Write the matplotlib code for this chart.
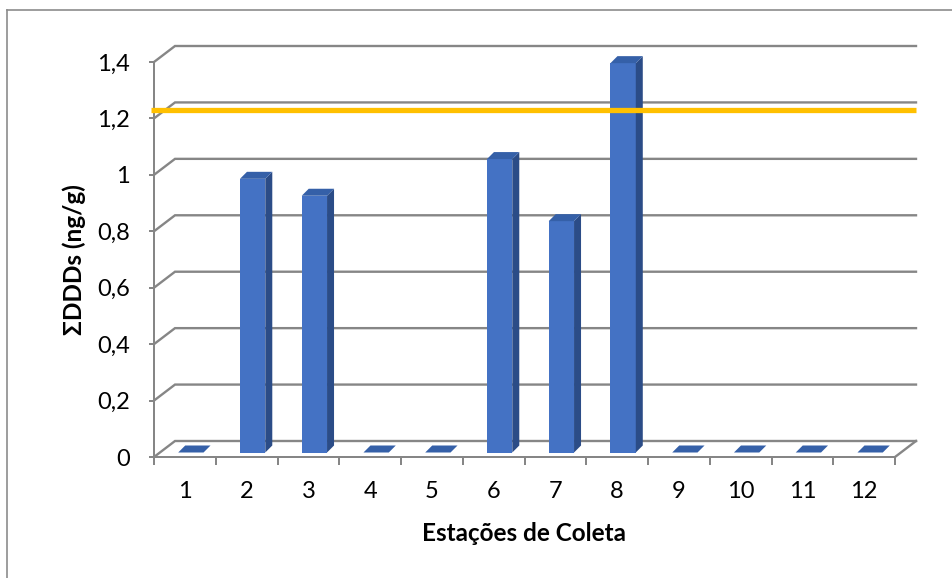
import numpy as np
import matplotlib
matplotlib.use("Agg")
import matplotlib.pyplot as plt
from matplotlib import transforms
from matplotlib.patches import Polygon
from matplotlib.lines import Line2D

plt.rcParams['font.family'] = ['Lato', 'DejaVu Sans']

# dados
estacoes = ['1', '2', '3', '4', '5', '6', '7', '8', '9', '10', '11', '12']
sum_ddds = [0, 0.97, 0.91, 0, 0, 1.04, 0.82, 1.38, 0, 0, 0, 0]
tel_ddd = 1.22  # linha de referência
y_ticks = [0, 0.2, 0.4, 0.6, 0.8, 1.0, 1.2, 1.4]
y_labels = ['0', '0,2', '0,4', '0,6', '0,8', '1', '1,2', '1,4']

W, H = 952, 578
fig = plt.figure(figsize=(W / 100, H / 100), dpi=100)
ax = fig.add_axes([154 / W, 121 / H, 741 / W, 395 / H])
ax.set_xlim(0, len(estacoes))
ax.set_ylim(0, 1.4)
ax.set_facecolor('none')

grid_c = '#868686'
depth = np.array([21, 16])      # profundidade do piso / parede (pixels)
bar_off = (6, 4.5)              # face frontal das barras
bar_depth = np.array([7, 7])

for s in ['top', 'right']:
    ax.spines[s].set_visible(False)
for s in ['left', 'bottom']:
    ax.spines[s].set_color(grid_c)
    ax.spines[s].set_linewidth(1.44)

ident = transforms.IdentityTransform()

def disp(x, y):
    return ax.transData.transform((x, y))

# grade na parede do fundo
for t in y_ticks:
    p0 = disp(0, t)
    p1 = p0 + depth
    p2 = disp(len(estacoes), t) + depth
    ax.add_line(Line2D([p0[0], p1[0], p2[0]], [p0[1], p1[1], p2[1]],
                       transform=ident, color=grid_c, lw=1.7, zorder=1,
                       clip_on=False, solid_joinstyle='miter'))
# borda direita do piso
q0 = disp(len(estacoes), 0)
q1 = q0 + depth
ax.add_line(Line2D([q0[0], q1[0]], [q0[1], q1[1]], transform=ident,
                   color=grid_c, lw=1.7, zorder=1, clip_on=False))

# barras 3D
x = np.arange(len(estacoes)) + 0.5
bar_trans = transforms.offset_copy(ax.transData, fig=fig, x=bar_off[0],
                                   y=bar_off[1], units='dots')
bars = ax.bar(x, sum_ddds, width=0.41, color='#4472C4', zorder=3)
for b, v in zip(bars, sum_ddds):
    b.set_transform(bar_trans)
    b.set_clip_on(False)
    x0, x1 = b.get_x(), b.get_x() + b.get_width()
    (ax0, ay0), (ax1, ay1) = bar_trans.transform([(x0, 0), (x1, v)])
    side = [(ax1, ay0), (ax1, ay1), (ax1 + bar_depth[0], ay1 + bar_depth[1]),
            (ax1 + bar_depth[0], ay0 + bar_depth[1])]
    top = [(ax0, ay1), (ax1, ay1), (ax1 + bar_depth[0], ay1 + bar_depth[1]),
           (ax0 + bar_depth[0], ay1 + bar_depth[1])]
    ax.add_patch(Polygon(side, closed=True, transform=ident, facecolor='#2B4C87',
                         edgecolor='none', zorder=3, clip_on=False))
    ax.add_patch(Polygon(top, closed=True, transform=ident, facecolor='#3560A8',
                         edgecolor='none', zorder=3, clip_on=False))

# linha de referência (amarela)
ly = disp(0, tel_ddd)[1] + 3
ax.add_line(Line2D([disp(0, 0)[0] - 3, disp(len(estacoes), 0)[0] + 21], [ly, ly],
                   transform=ident, color='#FFC000', lw=3.8, zorder=5,
                   clip_on=False, solid_capstyle='butt'))

# eixos
fs = 17
ax.set_yticks(y_ticks)
ax.set_yticklabels(y_labels)
ax.set_xticks(x)
ax.set_xticklabels(estacoes)
ax.set_xticks(np.arange(len(estacoes) + 1), minor=True)
ax.tick_params(axis='y', direction='out', length=3.6, width=1.44, color=grid_c,
               pad=13.5, labelsize=fs)
ax.tick_params(axis='x', which='major', length=0, pad=17, labelsize=fs)
ax.tick_params(axis='x', which='minor', direction='out', length=5.8, width=1.44,
               color=grid_c)
ax.set_xlabel('Estações de Coleta', fontsize=17.5, fontweight='bold', labelpad=15)
ax.set_ylabel('ΣDDDs (ng/g)', fontsize=17.5, fontweight='bold', labelpad=8.5)

# moldura do gráfico
fig.add_artist(Line2D([7 / W, 7 / W], [0, 1 - 10 / H], color='#8C8C8C', lw=1.2))
fig.add_artist(Line2D([7 / W, 1], [1 - 10 / H, 1 - 10 / H], color='#8C8C8C', lw=1.2))

fig.savefig('out.png', dpi=100)
